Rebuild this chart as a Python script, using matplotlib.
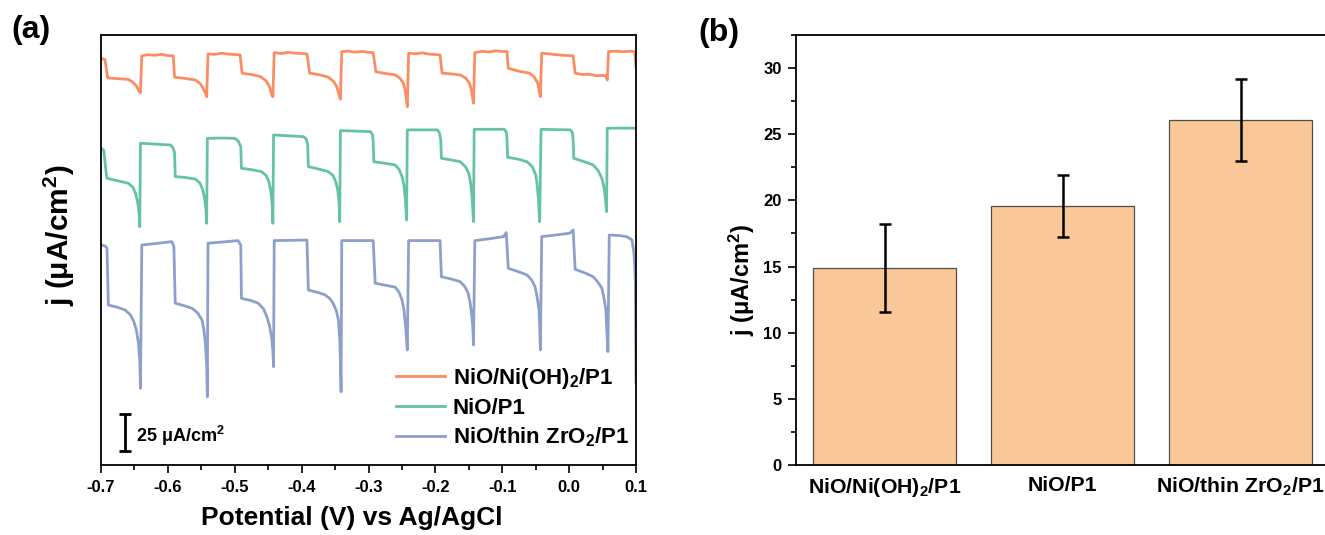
import matplotlib
matplotlib.use("Agg")
import matplotlib.pyplot as plt
from matplotlib.ticker import MultipleLocator

plt.rcParams['font.family'] = ['Liberation Sans', 'DejaVu Sans']
plt.rcParams['font.weight'] = 'bold'
plt.rcParams['axes.unicode_minus'] = False
plt.rcParams['mathtext.fontset'] = 'custom'
plt.rcParams['mathtext.rm'] = 'Liberation Sans:bold'
plt.rcParams['mathtext.it'] = 'Liberation Sans:bold'
plt.rcParams['mathtext.bf'] = 'Liberation Sans:bold'

# ---------------- Panel (a) data: chopped-light photocurrent traces ----------------
# potential (V vs Ag/AgCl) and current density (uA/cm^2, arbitrary offsets)
pot_nioh = [-0.700, -0.694, -0.690, -0.675, -0.659, -0.652, -0.647, -0.643, -0.641,
            -0.639, -0.630, -0.620, -0.610, -0.600, -0.592,
            -0.590, -0.575, -0.559, -0.552, -0.548, -0.544, -0.542,
            -0.540, -0.530, -0.520, -0.510, -0.500, -0.492,
            -0.489, -0.475, -0.462, -0.453, -0.448, -0.445, -0.443,
            -0.441, -0.430, -0.420, -0.410, -0.400, -0.392,
            -0.388, -0.375, -0.360, -0.352, -0.348, -0.345, -0.342,
            -0.340, -0.330, -0.320, -0.310, -0.300, -0.293,
            -0.289, -0.275, -0.260, -0.253, -0.248, -0.245, -0.242,
            -0.240, -0.230, -0.220, -0.210, -0.200, -0.193,
            -0.190, -0.175, -0.163, -0.155, -0.149, -0.146, -0.143,
            -0.141, -0.130, -0.120, -0.110, -0.100, -0.093,
            -0.091, -0.075, -0.059, -0.052, -0.047, -0.045, -0.043,
            -0.041, -0.030, -0.020, -0.010, 0.000, 0.006,
            0.009, 0.020, 0.030, 0.040, 0.050, 0.055, 0.057,
            0.059, 0.070, 0.080, 0.090, 0.098, 0.100]
j_nioh = [274.8, 273.8, 261.5, 261.0, 260.5, 258.5, 256.0, 252.5, 251.4,
          276.4, 277.2, 276.8, 277.4, 276.6, 276.4,
          262.0, 261.2, 260.1, 257.8, 255.0, 251.5, 248.8,
          277.7, 277.4, 278.2, 277.6, 277.3, 277.0,
          264.7, 263.8, 262.5, 259.5, 255.5, 250.5, 248.8,
          278.6, 278.0, 278.8, 278.2, 278.0, 277.7,
          264.7, 263.8, 262.0, 259.0, 256.0, 252.0, 247.1,
          279.3, 279.6, 278.9, 279.4, 278.8, 278.6,
          265.7, 264.5, 263.5, 261.3, 258.0, 253.0, 242.1,
          278.2, 277.8, 278.4, 277.6, 277.3, 277.0,
          264.7, 264.2, 263.5, 261.5, 258.0, 253.0, 244.4,
          278.6, 279.5, 279.0, 279.8, 279.4, 279.3,
          268.0, 266.0, 264.7, 262.0, 258.0, 253.5, 248.8,
          278.2, 277.8, 277.2, 276.8, 276.6, 276.4,
          264.7, 263.8, 264.0, 263.0, 263.2, 262.8, 260.1,
          279.3, 279.6, 279.2, 279.5, 279.3, 269.1]

pot_nio = [-0.700, -0.696, -0.692, -0.691,
           -0.675, -0.659, -0.652, -0.648, -0.645, -0.643, -0.642,
           -0.641, -0.620, -0.596, -0.592, -0.590,
           -0.589, -0.575, -0.559, -0.552, -0.548, -0.545, -0.543, -0.542,
           -0.541, -0.520, -0.500, -0.495, -0.491,
           -0.490, -0.475, -0.460, -0.453, -0.449, -0.446, -0.444, -0.443,
           -0.442, -0.420, -0.397, -0.393, -0.391,
           -0.390, -0.375, -0.360, -0.353, -0.349, -0.346, -0.344, -0.343,
           -0.342, -0.320, -0.297, -0.294, -0.293,
           -0.292, -0.275, -0.260, -0.254, -0.250, -0.247, -0.245, -0.243,
           -0.242, -0.220, -0.197, -0.194, -0.192,
           -0.191, -0.175, -0.163, -0.155, -0.150, -0.147, -0.145, -0.143,
           -0.142, -0.120, -0.097, -0.094, -0.093,
           -0.092, -0.075, -0.063, -0.055, -0.050, -0.048, -0.046, -0.044,
           -0.042, -0.020, 0.002, 0.005, 0.006,
           0.007, 0.022, 0.036, 0.044, 0.049, 0.052, 0.054, 0.056,
           0.057, 0.080, 0.100]
j_nio = [214.0, 212.8, 196.5, 193.7,
         192.0, 190.3, 187.5, 183.0, 177.0, 170.0, 161.0,
         217.4, 216.8, 216.2, 214.0, 211.0,
         194.8, 194.3, 193.2, 190.5, 186.0, 180.0, 172.0, 163.3,
         220.7, 220.9, 220.7, 219.0, 215.1,
         200.5, 199.5, 198.2, 195.5, 191.5, 185.0, 176.0, 163.3,
         223.0, 222.4, 221.8, 220.0, 216.5,
         201.6, 200.0, 198.2, 195.5, 191.5, 186.0, 177.0, 164.4,
         225.9, 225.6, 225.2, 223.0, 219.0,
         204.9, 203.8, 202.7, 199.5, 195.0, 189.0, 180.0, 165.5,
         226.4, 226.4, 226.4, 224.5, 220.0,
         207.2, 206.0, 204.9, 201.5, 197.0, 190.0, 180.0, 164.4,
         226.8, 226.8, 226.8, 225.0, 221.0,
         207.9, 206.5, 204.9, 201.5, 196.0, 190.3, 180.0, 164.4,
         226.8, 226.6, 226.4, 224.5, 220.0,
         207.2, 205.0, 202.7, 198.5, 193.5, 188.0, 181.0, 171.1,
         227.5, 227.6, 227.5]

pot_zro = [-0.700, -0.694, -0.691, -0.689,
           -0.675, -0.664, -0.656, -0.651, -0.647, -0.644, -0.642, -0.641,
           -0.639, -0.615, -0.594, -0.591,
           -0.589, -0.575, -0.564, -0.555, -0.549, -0.546, -0.544, -0.542, -0.541,
           -0.540, -0.515, -0.495, -0.491,
           -0.490, -0.475, -0.465, -0.457, -0.452, -0.448, -0.445, -0.443, -0.442,
           -0.441, -0.415, -0.392,
           -0.390, -0.375, -0.365, -0.358, -0.353, -0.348, -0.345, -0.343, -0.342, -0.341,
           -0.340, -0.315, -0.293,
           -0.290, -0.275, -0.260, -0.254, -0.250, -0.247, -0.246, -0.244, -0.242,
           -0.240, -0.215, -0.193,
           -0.191, -0.175, -0.163, -0.156, -0.151, -0.148, -0.146, -0.144, -0.143,
           -0.141, -0.120, -0.098, -0.094,
           -0.091, -0.075, -0.063, -0.056, -0.051, -0.048, -0.045, -0.044, -0.043,
           -0.041, -0.020, 0.001, 0.006,
           0.009, 0.025, 0.036, 0.043, 0.049, 0.052, 0.055, 0.056, 0.058,
           0.060, 0.075, 0.086, 0.094, 0.097, 0.099, 0.100]
j_zro = [148.6, 148.0, 146.5, 108.1,
         106.5, 104.7, 101.5, 97.0, 91.0, 82.2, 70.0, 51.8,
         148.6, 149.8, 150.9, 147.5,
         109.3, 107.5, 105.9, 102.5, 98.0, 91.0, 82.2, 68.0, 46.1,
         149.8, 150.8, 151.6, 148.6,
         112.6, 111.0, 109.3, 105.5, 100.2, 94.0, 86.7, 77.0, 66.4,
         151.6, 151.8, 152.0,
         118.2, 116.5, 114.9, 112.5, 109.3, 104.0, 98.0, 85.0, 70.0, 49.5,
         151.6, 151.6, 151.6,
         122.8, 121.5, 120.1, 116.5, 111.5, 105.0, 100.2, 91.0, 77.7,
         151.6, 151.6, 151.6,
         127.2, 125.5, 123.9, 120.5, 116.0, 109.5, 102.5, 93.0, 81.1,
         151.6, 152.8, 154.3, 157.0,
         132.9, 130.5, 128.4, 125.0, 120.5, 114.0, 104.7, 93.0, 77.7,
         154.3, 155.4, 156.6, 158.8,
         132.2, 129.5, 127.2, 123.5, 119.4, 113.0, 104.7, 94.0, 76.6,
         155.4, 155.0, 154.3, 152.0, 143.0, 125.0, 55.4]

labels_a = [r'NiO/Ni(OH)$_2$/P1', 'NiO/P1', r'NiO/thin ZrO$_2$/P1']
colors_a = ['#FC8D62', '#66C2A5', '#8DA0CB']
scale_bar = 25  # uA/cm^2

# ---------------- Panel (b) data ----------------
categories_b = [r'NiO/Ni(OH)$_2$/P1', 'NiO/P1', r'NiO/thin ZrO$_2$/P1']
j_mean = [14.9, 19.6, 26.1]
j_err = [3.3, 2.35, 3.1]

W, H = 1325, 535
fig = plt.figure(figsize=(W / 100, H / 100), dpi=100)

def px_axes(l, r, t, b):
    return fig.add_axes([l / W, 1 - b / H, (r - l) / W, (b - t) / H])

# ---- (a) ----
ax = px_axes(101, 636, 35, 465)
for pot, jj, lab, c in zip([pot_nioh, pot_nio, pot_zro], [j_nioh, j_nio, j_zro], labels_a, colors_a):
    ax.plot(pot, jj, color=c, lw=2.0, label=lab, solid_joinstyle='round')
ax.set_xlim(-0.7, 0.1)
ax.set_ylim(0, 290.5)
ax.xaxis.set_minor_locator(MultipleLocator(0.05))
ax.set_xticks([-0.7, -0.6, -0.5, -0.4, -0.3, -0.2, -0.1, 0.0, 0.1])
ax.set_xticklabels(['-0.7', '-0.6', '-0.5', '-0.4', '-0.3', '-0.2', '-0.1', '0.0', '0.1'])
ax.set_yticks([])
ax.tick_params(axis='x', which='major', direction='out', length=6, width=1.2, labelsize=12, pad=5)
ax.tick_params(axis='x', which='minor', direction='out', length=3.5, width=1.2)
for s in ax.spines.values():
    s.set_linewidth(1.3)
ax.set_xlabel('Potential (V) vs Ag/AgCl', fontsize=19, fontweight='bold')
ax.xaxis.set_label_coords((352 - 101) / 535, -0.095)
ax.xaxis.label.set_va('top')
ax.set_ylabel(r'j ($\mathregular{\mu}$A/cm$^2$)', fontsize=21.5, fontweight='bold')
ax.yaxis.set_label_coords(-0.045, 0.535)

# scale bar
ax.errorbar([-0.664], [22.2], yerr=[scale_bar / 2], color='black', lw=2, capsize=4, capthick=2)
ax.text(-0.6475, 15.5, r'%d $\mathregular{\mu}$A/cm$^2$' % scale_bar, fontsize=13,
        fontweight='bold', va='baseline', ha='left')

leg = ax.legend(loc='upper left', bbox_to_anchor=((396 - 101) / 535, (465 - 366) / 430),
                frameon=False, fontsize=16, handlelength=2.2, handletextpad=0.36,
                labelspacing=0.3, borderpad=0, borderaxespad=0)

fig.text(31 / W, 1 - 30 / H, '(a)', fontsize=23, fontweight='bold', ha='center', va='center')

# ---- (b) ----
bx = px_axes(795.5, 795.5 + 534, 35, 465)
xpos = list(range(len(categories_b)))
bx.bar(xpos, j_mean, width=0.8, color='#FAC898', edgecolor='#4d4d4d', linewidth=0.9, zorder=2)
bx.errorbar(xpos, j_mean, yerr=j_err, fmt='none', ecolor='black', elinewidth=1.8,
            capsize=4.5, capthick=1.8, zorder=3)
bx.set_xlim(-0.5, 2.5)
bx.set_ylim(0, 32.5)
bx.set_xticks(xpos)
bx.set_xticklabels(categories_b)
bx.yaxis.set_major_locator(MultipleLocator(5))
bx.yaxis.set_minor_locator(MultipleLocator(2.5))
bx.tick_params(axis='x', length=0, labelsize=15.3, pad=8)
bx.tick_params(axis='y', which='major', direction='out', length=6, width=1.2, labelsize=12, pad=4)
bx.tick_params(axis='y', which='minor', direction='out', length=3.5, width=1.2)
for s in bx.spines.values():
    s.set_linewidth(1.3)
bx.set_ylabel(r'j ($\mathregular{\mu}$A/cm$^2$)', fontsize=17, fontweight='bold')
bx.yaxis.set_label_coords(-0.072, 0.43)

fig.text(719 / W, 1 - 33 / H, '(b)', fontsize=23, fontweight='bold', ha='center', va='center')

fig.savefig('out.png', dpi=100)
